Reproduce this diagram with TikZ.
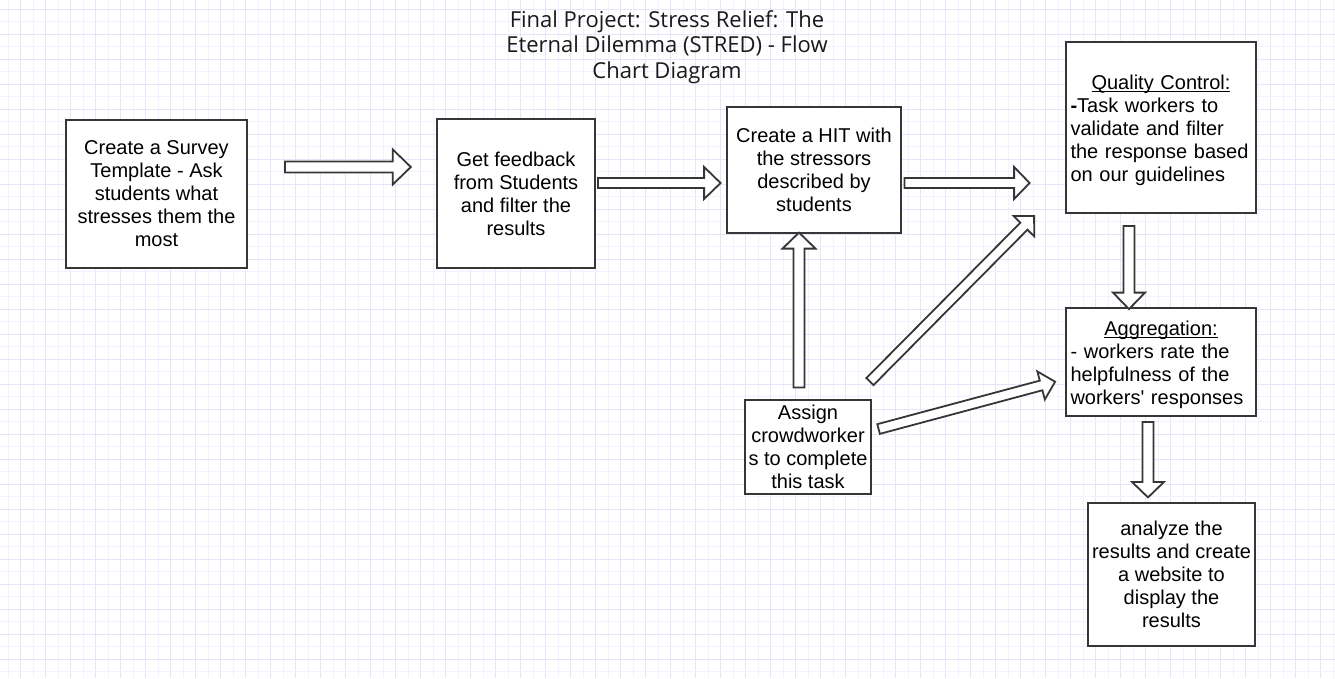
\documentclass[tikz,border=0pt]{standalone}
\usepackage{fontspec}
\setmainfont{Liberation Sans}[Ligatures=TeXOff]
\newfontfamily\titlefont{Open Sans}
\usetikzlibrary{calc}
\definecolor{gridA}{HTML}{F1F1FF}
\definecolor{gridB}{HTML}{E4E4FB}
\definecolor{edge}{HTML}{363636}
\definecolor{titlecol}{HTML}{1A1A1A}
\newlength\ulwd
\newcommand\ulbase[1]{\settowidth\ulwd{#1}\rlap{\rule[-2.4pt]{\ulwd}{1.3pt}}#1}
\tikzset{
  box/.style={draw=edge, line width=1.8pt, fill=white, rectangle, inner sep=0pt,
    align=center, font=\fontsize{20}{23}\selectfont, text=black},
  blk/.style={draw=edge, line width=1.8pt, fill=white, line join=miter},
  gminor/.style={draw=gridA, line width=1pt},
  gmajor/.style={draw=gridB, line width=1pt},
}
\newcommand\blkarrow[5]{%
  \coordinate (ba-h) at ($(#2)!#5!(#1)$);
  \draw[blk] ($(#1)!#3!90:(#2)$) -- ($(ba-h)!#3!-90:(#1)$) -- ($(ba-h)!#4!-90:(#1)$)
    -- (#2) -- ($(ba-h)!#4!90:(#1)$) -- ($(ba-h)!#3!90:(#1)$) -- ($(#1)!#3!-90:(#2)$) -- cycle;}
\begin{document}
\begin{tikzpicture}[x=1pt,y=-1pt]
\useasboundingbox (0,0) rectangle (1335,678);
\fill[white] (0,0) rectangle (1335,678);
\foreach \k in {0,...,53}{
  \draw[gminor] ({8.2+25*\k},0) -- ({8.2+25*\k},678);
  \draw[gmajor] ({20.7+25*\k},0) -- ({20.7+25*\k},678);
}
\foreach \k in {0,...,27}{
  \draw[gminor] (0,{21.8+25*\k}) -- (1335,{21.8+25*\k});
  \draw[gmajor] (0,{9.3+25*\k}) -- (1335,{9.3+25*\k});
}

\node[font=\titlefont\fontsize{22}{25.5}\selectfont, text=titlecol, align=center] (title) at (667,47)
  {Final Project: Stress Relief: The\\Eternal Dilemma (STRED) - Flow\\Chart Diagram};

\node[box, minimum width=181pt, minimum height=148pt] (survey) at (156.5,194)
  {Create a Survey\\Template - Ask\\students what\\stresses them the\\most};
\node[box, minimum width=158pt, minimum height=149pt] (feedback) at (516,193.5)
  {Get feedback\\from Students\\and filter the\\results};
\node[box, minimum width=174pt, minimum height=126pt] (hit) at (814,170)
  {Create a HIT with\\the stressors\\described by\\students};
\node[box, text width=181pt, inner xsep=4.5pt, minimum height=171pt, align=left] (qc) at (1161,127.5)
  {\makebox[\hsize]{\rule{0pt}{21pt}\ulbase{Quality Control:}}\\\textbf{-}Task workers to\\validate and filter\\the response based\\on our guidelines};
\node[box, text width=181pt, inner xsep=4.5pt, minimum height=108pt, align=left] (agg) at (1161,362)
  {\makebox[\hsize]{\rule{0pt}{21pt}\ulbase{Aggregation:}}\\- workers rate the\\helpfulness of the\\workers' responses};
\node[box, minimum width=167pt, minimum height=143pt] (analyze) at (1171.5,574.5)
  {analyze the\\results and create\\a website to\\display the\\results};
\node[box, minimum width=126pt, minimum height=94pt] (assign) at (808,447)
  {Assign\\crowdworker\\s to complete\\this task};

\coordinate (a1s) at ($(survey.east)+(37,-27)$);
\coordinate (a1e) at ($(feedback.west)+(-25.3,-26.5)$);
\coordinate (a2s) at ($(feedback.east)+(2,-10.5)$);
\coordinate (a2e) at ($(hit.west)+(-5.5,13)$);
\coordinate (a3s) at ($(hit.east)+(2.5,13)$);
\coordinate (a3e) at ($(qc.west)+(-35.5,55.5)$);
\coordinate (a4s) at ($(qc.south)+(-32,12)$);
\coordinate (a4e) at ($(agg.north)+(-32,2)$);
\coordinate (a5s) at ($(agg.south)+(-13,5)$);
\coordinate (a5e) at ($(analyze.north)+(-23.5,-4.7)$);
\coordinate (a6s) at ($(assign.north)+(-9,-11.7)$);
\coordinate (a6e) at ($(hit.south)+(-15,-1.3)$);
\coordinate (a7s) at ($(assign.north east)+(-2,-17.5)$);
\coordinate (a7e) at ($(qc.south west)+(-31,2)$);
\coordinate (a8s) at ($(assign.east)+(6.7,-18)$);
\coordinate (a8e) at ($(agg.west)+(-10,19.7)$);

\blkarrow{a1s}{a1e}{5.5pt}{17.5pt}{18pt}
\blkarrow{a2s}{a2e}{5pt}{16pt}{16.5pt}
\blkarrow{a3s}{a3e}{5pt}{16pt}{15.5pt}
\blkarrow{a4s}{a4e}{5.5pt}{16pt}{16.5pt}
\blkarrow{a5s}{a5e}{5.5pt}{16pt}{15.5pt}
\blkarrow{a6s}{a6e}{5.5pt}{16.5pt}{16pt}
\blkarrow{a7s}{a7e}{5pt}{14.5pt}{14.5pt}
\blkarrow{a8s}{a8e}{5pt}{14.5pt}{14.5pt}
\end{tikzpicture}
\end{document}
